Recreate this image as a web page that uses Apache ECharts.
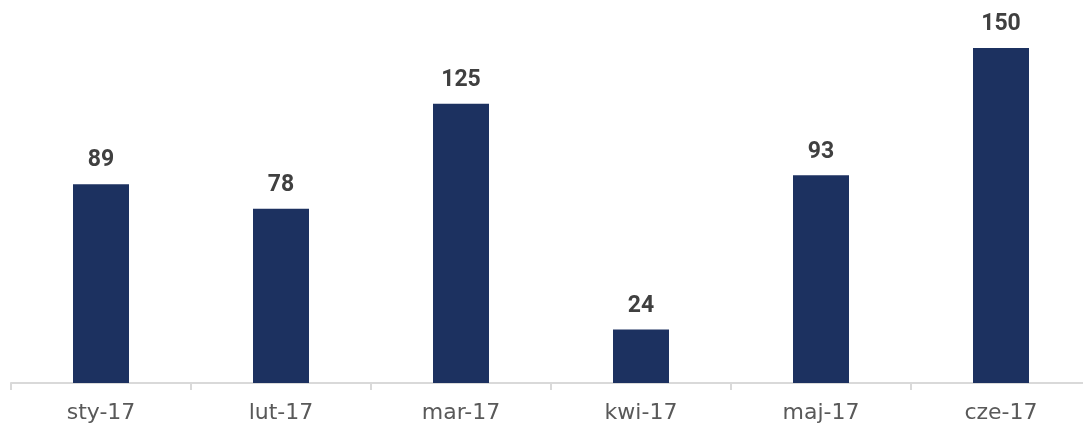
<!DOCTYPE html>
<html>
<head>
<meta charset="utf-8">
<script src="https://cdn.jsdelivr.net/npm/echarts@6/dist/echarts.min.js"></script>
<style>
  html, body { margin: 0; padding: 0; background: #ffffff; overflow: hidden; }
  #chart { width: 1091px; height: 426px; }
</style>
</head>
<body>
<div id="chart"></div>
<script>
// Monthly values, first half of 2017
const months = ['sty-17', 'lut-17', 'mar-17', 'kwi-17', 'maj-17', 'cze-17'];
const values = [89, 78, 125, 24, 93, 150];

const chart = echarts.init(document.getElementById('chart'), null, { renderer: 'canvas' });

chart.setOption({
  animation: false,
  backgroundColor: '#ffffff',
  grid: { left: 11, top: 48, right: 0, bottom: 43, containLabel: false },
  xAxis: {
    type: 'category',
    data: months,
    axisLine: { lineStyle: { color: '#d9d9d9', width: 2 } },
    axisTick: { show: true, length: 7, lineStyle: { color: '#d9d9d9', width: 2 } },
    axisLabel: {
      color: '#595959',
      fontFamily: 'DejaVu Sans',
      fontSize: 22,
      margin: 19
    }
  },
  yAxis: {
    type: 'value',
    min: 0,
    max: 150,
    show: false,
    splitLine: { show: false }
  },
  series: [{
    type: 'bar',
    data: values,
    barWidth: 56,
    itemStyle: { color: '#1c3160' },
    label: {
      show: true,
      position: 'top',
      distance: 12,
      color: '#404040',
      fontFamily: 'Roboto',
      fontWeight: 'bold',
      fontSize: 23
    }
  }]
});
</script>
</body>
</html>
